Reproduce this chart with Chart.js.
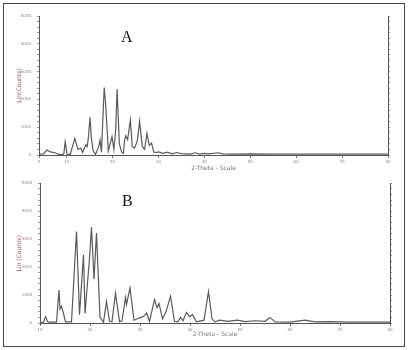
<!DOCTYPE html>
<html>
<head>
<meta charset="utf-8">
<script src="https://cdn.jsdelivr.net/npm/chart.js@4/dist/chart.umd.min.js"></script>
<style>
  body { margin: 0; background: #fff; width: 408px; height: 350px; position: relative; overflow: hidden; }
  #frame { position: absolute; left: 3px; top: 3px; width: 400px; height: 342px; border: 1.5px solid #444; }
  .box { position: absolute; left: 0; width: 408px; height: 175px; }
  #boxA { top: 0; }
  #boxB { top: 175px; }
  .tag { position: absolute; font-family: "Liberation Serif", "DejaVu Serif", serif; font-size: 16px; color: #111; }
</style>
</head>
<body>
<div id="frame"></div>
<div class="box" id="boxA"><canvas id="chartA" width="408" height="175"></canvas></div>
<div class="box" id="boxB"><canvas id="chartB" width="408" height="175"></canvas></div>
<div class="tag" style="left:121px; top:28px;">A</div>
<div class="tag" style="left:122px; top:192px;">B</div>
<script>
// Amostra A
const twoThetaA = [4, 5, 5.7, 6.5, 7.5, 8.3, 9.0, 9.4, 9.7, 10.1, 10.8, 11.8, 12.5, 13.1, 13.5, 14.2, 14.5, 14.8, 15.1, 15.4, 15.8, 16.3,
  17.0, 17.3, 17.6, 18.2, 18.5, 19.1, 19.9, 20.3, 20.7, 21.0, 21.5, 22.0, 22.4, 22.6, 22.9, 23.3, 23.9, 24.3, 24.8, 25.4, 25.9, 26.5, 27.0,
  27.5, 28.0, 28.5, 29.0, 29.5, 30, 31, 32, 33, 34, 35, 37, 38, 39, 40, 41, 43, 44, 46, 50, 55, 60, 65, 70, 75, 80];
const countsA = [30, 40, 180, 110, 80, 20, 10, 40, 470, 30, 20, 600, 200, 250, 90, 370, 300, 700, 1360, 600, 150, 20,
  300, 540, 100, 2430, 1860, 150, 660, 200, 900, 2370, 400, 100, 60, 500, 690, 550, 1260, 300, 250, 500, 1200, 300, 200,
  780, 350, 430, 100, 90, 110, 60, 100, 40, 90, 50, 30, 80, 30, 60, 40, 80, 40, 30, 40, 30, 30, 30, 30, 30, 30];

// Amostra B
const twoThetaB = [10, 10.7, 11.1, 11.6, 13.3, 13.8, 14.0, 14.3, 14.7, 15.1, 16.3, 17.3, 17.9, 18.7, 19.0, 19.9, 20.3, 20.8,
  21.3, 22.0, 22.7, 23.3, 23.9, 24.4, 25.1, 25.9, 26.4, 27.1, 27.3, 28.0, 28.8, 29.5, 30.2, 30.8, 31.3, 31.9, 32.9,
  33.4, 33.8, 34.5, 35.2, 36.1, 36.9, 37.6, 38.1, 38.6, 39.3, 39.9, 40.5, 41.3, 42.8, 43.7, 44.4, 45.0, 46.0, 47.5,
  49.5, 51, 53, 55, 56, 57, 60, 63, 65, 68, 72, 76, 80];
const countsB = [20, 30, 220, 30, 30, 1180, 500, 600, 340, 40, 40, 3280, 300, 2440, 340, 2320, 3430, 1570,
  3220, 200, 30, 770, 60, 50, 1070, 50, 80, 910, 660, 1260, 100, 150, 200, 250, 360, 60, 840,
  550, 700, 150, 400, 960, 60, 40, 200, 80, 380, 230, 300, 40, 100, 1130, 150, 40, 100, 60,
  100, 50, 80, 60, 200, 40, 30, 100, 40, 50, 30, 30, 30];

const countTicks = [0, 1000, 2000, 3000, 4000, 5000];
const thetaTicksA = [4, 10, 20, 30, 40, 50, 60, 70, 80];
const thetaTicksB = [10, 20, 30, 40, 50, 60, 70, 80];

function montarPontos(xs, ys) {
  return xs.map((x, i) => ({ x: x, y: ys[i] }));
}

function gerarChart(id, xs, ys, xMin, xTicks, titulo, pad) {
  const tickFont = { family: 'DejaVu Sans', size: 4 };
  const minor = [];
  for (let v = 0; v <= 5000; v += 200) minor.push(v);

  const config = {
    type: 'line',
    data: {
      datasets: [{
        data: montarPontos(xs, ys),
        borderColor: '#5a5a5a',
        borderWidth: 1.2,
        pointRadius: 0,
        tension: 0,
        fill: false
      }]
    },
    options: {
      responsive: false,
      animation: false,
      events: [],
      layout: { padding: { top: pad.top, left: 0, right: 0, bottom: 0 } },
      plugins: { legend: { display: false }, tooltip: { enabled: false } },
      scales: {
        x: {
          type: 'linear',
          min: xMin,
          max: 80,
          afterBuildTicks: s => { s.ticks = xTicks.map(v => ({ value: v })); },
          afterFit: s => { s.height = pad.xh; },
          grid: { drawOnChartArea: false, drawTicks: true, tickLength: 3, color: '#777' },
          border: { color: '#555', width: 1 },
          ticks: { font: tickFont, color: '#888', maxRotation: 0, padding: 2, autoSkip: false },
          title: { display: true, text: '2-Theta - Scale', color: '#777', font: { family: 'DejaVu Sans', size: 6 }, padding: { top: 0, bottom: pad.tb } }
        },
        y: {
          min: 0,
          max: 5000,
          afterBuildTicks: s => { s.ticks = minor.map(v => ({ value: v })); },
          afterFit: s => { s.width = pad.left; },
          grid: { drawOnChartArea: false, drawTicks: true, tickLength: 2, color: '#999' },
          border: { color: '#555', width: 1 },
          ticks: {
            font: tickFont, color: '#888', padding: 6, autoSkip: false,
            callback: v => countTicks.includes(v) ? v : ''
          },
          title: { display: true, text: titulo, color: '#a0524a', font: { family: 'DejaVu Sans', size: 6 }, padding: { top: 16, bottom: 0 } }
        },
        y2: {
          position: 'right',
          min: 0,
          max: 5000,
          afterBuildTicks: s => { s.ticks = minor.map(v => ({ value: v })); },
          afterFit: s => { s.width = pad.right; },
          grid: { drawOnChartArea: false, drawTicks: true, tickLength: 2, color: '#999' },
          border: { color: '#555', width: 1 },
          ticks: { display: false }
        }
      }
    }
  };
  return new Chart(document.getElementById(id), config);
}

gerarChart('chartA', twoThetaA, countsA, 4, thetaTicksA, 'Lin(Counts)', { top: 16, left: 39, right: 20, xh: 20, tb: 3 });
gerarChart('chartB', twoThetaB, countsB, 10, thetaTicksB, 'Lin (Counts)', { top: 5, left: 40, right: 18, xh: 27, tb: 12 });
</script>
</body>
</html>
